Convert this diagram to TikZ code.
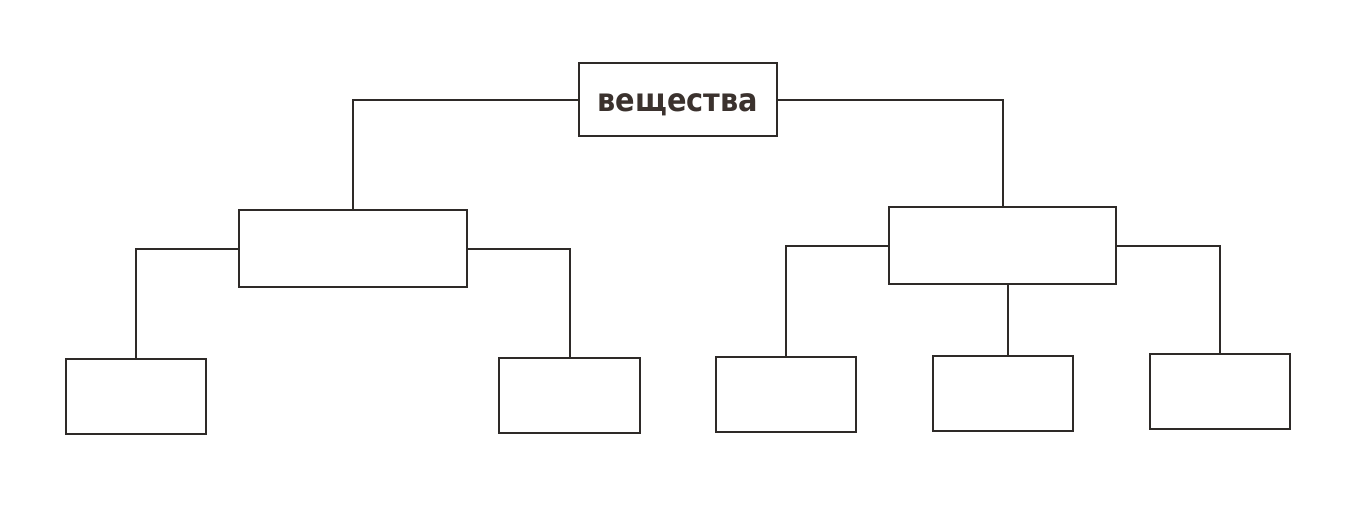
\documentclass[tikz,border=0pt]{standalone}
\usepackage{fontspec}
\setmainfont{DejaVu Sans}
\newfontfamily\labelfont[FakeStretch=0.9]{DejaVu Sans}
\definecolor{ink}{HTML}{2E2A28}
\definecolor{txt}{HTML}{3B322E}
\begin{document}
\begin{tikzpicture}[x=1pt,y=-1pt,
  box/.style={draw=ink, line width=2pt, inner sep=0pt, anchor=north west},
  link/.style={draw=ink, line width=2pt}]
\useasboundingbox (0,0) rectangle (1351,512);
\fill[white] (0,0) rectangle (1351,512);
\node[box, minimum width=198pt, minimum height=73pt, text height=25pt, text depth=2pt,
      font=\labelfont\fontsize{32}{32}\selectfont\bfseries, text=txt] (top) at (578,62) {вещества};
\node[box, minimum width=228pt, minimum height=77pt] (lmid) at (238,209) {};
\node[box, minimum width=227pt, minimum height=77pt] (rmid) at (888,206) {};
\node[box, minimum width=140pt, minimum height=75pt] (ll) at (65,358) {};
\node[box, minimum width=141pt, minimum height=75pt] (lr) at (498,357) {};
\node[box, minimum width=140pt, minimum height=75pt] (r1) at (715,356) {};
\node[box, minimum width=140pt, minimum height=75pt] (r2) at (932,355) {};
\node[box, minimum width=140pt, minimum height=75pt] (r3) at (1149,353) {};
\coordinate (mx) at (1008,0);
\draw[link] (top.west) -| (lmid.north);
\draw[link] (top.east) -| (rmid.north);
\draw[link] (lmid.west) -| (ll.north);
\draw[link] (lmid.east) -| (lr.north);
\draw[link] (rmid.west) -| (r1.north);
\draw[link] (rmid.east) -| (r3.north);
\draw[link] (rmid.south -| mx) -- (r2.north -| mx);
\end{tikzpicture}
\end{document}
